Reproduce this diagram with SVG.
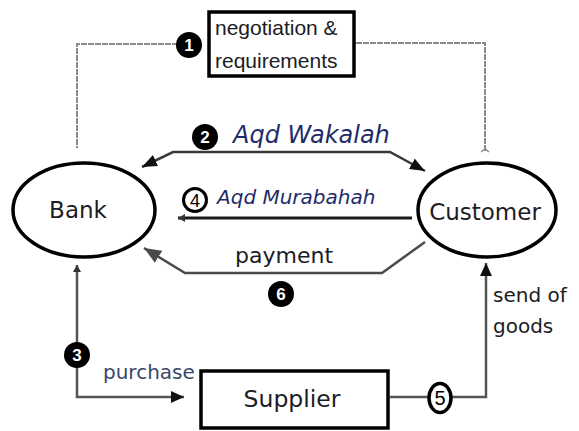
<svg xmlns="http://www.w3.org/2000/svg" width="579" height="431" viewBox="0 0 579 431">
  <style>
    .ent { fill: #ffffff; stroke: #000000; stroke-width: 3.5; }
    .box { fill: #ffffff; stroke: #000000; stroke-width: 3.5; }
    .lbl { font-family: "DejaVu Sans", Verdana, sans-serif; fill: #1c1c24; }
    .akad { font-family: "DejaVu Sans", Verdana, sans-serif; font-style: italic; fill: #1f2c6a; }
    .narrow { font-family: "Liberation Sans", Arial, sans-serif; fill: #1c1c24; }
    .dot { fill: #000000; }
    .dotnum { font-family: "Liberation Sans", Arial, sans-serif; font-weight: bold; font-size: 17px; fill: #ffffff; text-anchor: middle; }
    .ring { fill: #ffffff; stroke: #000000; stroke-width: 3; }
    .ringnum { font-family: "Liberation Sans", Arial, sans-serif; font-size: 18px; fill: #000000; text-anchor: middle; }
    .flow { fill: none; stroke: #3a3a3a; stroke-width: 2.5; }
    .faint { fill: none; stroke: #8a8a8a; stroke-width: 2; stroke-dasharray: 6 1; }
  </style>
  <defs>
    <marker id="headBig" markerUnits="userSpaceOnUse" markerWidth="16" markerHeight="12" refX="15" refY="6" orient="auto-start-reverse">
      <path d="M0,0 L15,6 L0,12 z" fill="#111111"/>
    </marker>
    <marker id="headGrey" markerUnits="userSpaceOnUse" markerWidth="18" markerHeight="14" refX="17" refY="7" orient="auto">
      <path d="M0,0 L17,7 L0,14 z" fill="#4a4a4a"/>
    </marker>
    <marker id="headMid" markerUnits="userSpaceOnUse" markerWidth="14" markerHeight="12" refX="13" refY="6" orient="auto">
      <path d="M0,0 L13,6 L0,12 z" fill="#111111"/>
    </marker>
    <marker id="headSmall" markerUnits="userSpaceOnUse" markerWidth="8" markerHeight="8" refX="7" refY="4" orient="auto-start-reverse">
      <path d="M0,0 L7,4 L0,8 z" fill="#333333"/>
    </marker>
    <marker id="tick" markerUnits="userSpaceOnUse" markerWidth="10" markerHeight="6" refX="5" refY="5" orient="0">
      <path d="M1,5 L5,2 L9,5" fill="none" stroke="#8a8a8a" stroke-width="1.5"/>
    </marker>
  </defs>

  <!-- connectors -->
  <g id="connectors">
    <path class="faint" d="M178,44 L77,44 L77,148"/>
    <path class="faint" d="M356,43 L485,43 L485,152" marker-end="url(#tick)"/>
    <path class="flow" d="M142,167 L173,152 L390,152 L425,171" marker-start="url(#headBig)" marker-end="url(#headBig)"/>
    <path class="flow" style="stroke:#1a1a1a;stroke-width:3" d="M412,218 L178,218" marker-end="url(#headSmall)"/>
    <path class="flow" style="stroke:#4a4a4a" d="M425,242 L382,273 L185,273 L144,248" marker-end="url(#headGrey)"/>
    <path class="flow" style="stroke:#555555" d="M77,265 L77,397 L184,397" marker-start="url(#headSmall)" marker-end="url(#headMid)"/>
    <path class="flow" style="stroke:#555555" d="M390,397 L486,397 L486,263" marker-end="url(#headMid)"/>
  </g>

  <!-- step markers -->
  <g id="step1"><circle class="dot" cx="189" cy="45" r="13"/><text class="dotnum" x="189" y="51">1</text></g>
  <g id="step2"><circle class="dot" cx="205" cy="137" r="13"/><text class="dotnum" x="205" y="143">2</text></g>
  <g id="step3"><circle class="dot" cx="77" cy="355" r="13"/><text class="dotnum" x="77" y="361">3</text></g>
  <g id="step4"><circle class="ring" cx="195" cy="200" r="11.5"/><text class="ringnum" x="195" y="206.5">4</text></g>
  <g id="step5"><ellipse class="ring" style="stroke-width:3.5" cx="440" cy="398" rx="11" ry="14.5"/><text class="ringnum" x="440" y="405" style="font-size:20px">5</text></g>
  <g id="step6"><circle class="dot" cx="281" cy="294" r="13"/><text class="dotnum" x="281" y="300">6</text></g>

  <!-- nodes -->
  <g id="negotiation">
    <rect class="box" x="209" y="12" width="145" height="64"/>
    <text class="narrow" x="215" y="35" font-size="21">negotiation &amp;</text>
    <text class="narrow" x="215" y="68" font-size="21">requirements</text>
  </g>
  <g id="bank">
    <ellipse class="ent" cx="84" cy="210" rx="71" ry="47"/>
    <text class="lbl" x="78" y="218" font-size="23" text-anchor="middle">Bank</text>
  </g>
  <g id="customer">
    <ellipse class="ent" cx="487" cy="210" rx="69" ry="47"/>
    <text class="lbl" x="485" y="220" font-size="23" text-anchor="middle">Customer</text>
  </g>
  <g id="supplier">
    <rect class="box" x="201" y="371" width="187" height="57"/>
    <text class="lbl" x="292" y="407" font-size="23.5" text-anchor="middle">Supplier</text>
  </g>

  <!-- flow labels -->
  <g id="labels">
    <text class="akad" x="233" y="143" font-size="24">Aqd Wakalah</text>
    <text class="akad" x="217" y="204" font-size="20">Aqd Murabahah</text>
    <text class="lbl" x="235" y="263" font-size="22">payment</text>
    <text class="lbl" x="103" y="379" font-size="20" style="fill:#3a4766">purchase</text>
    <text class="lbl" x="493" y="302" font-size="20">send of</text>
    <text class="lbl" x="493" y="333" font-size="20">goods</text>
  </g>
</svg>
